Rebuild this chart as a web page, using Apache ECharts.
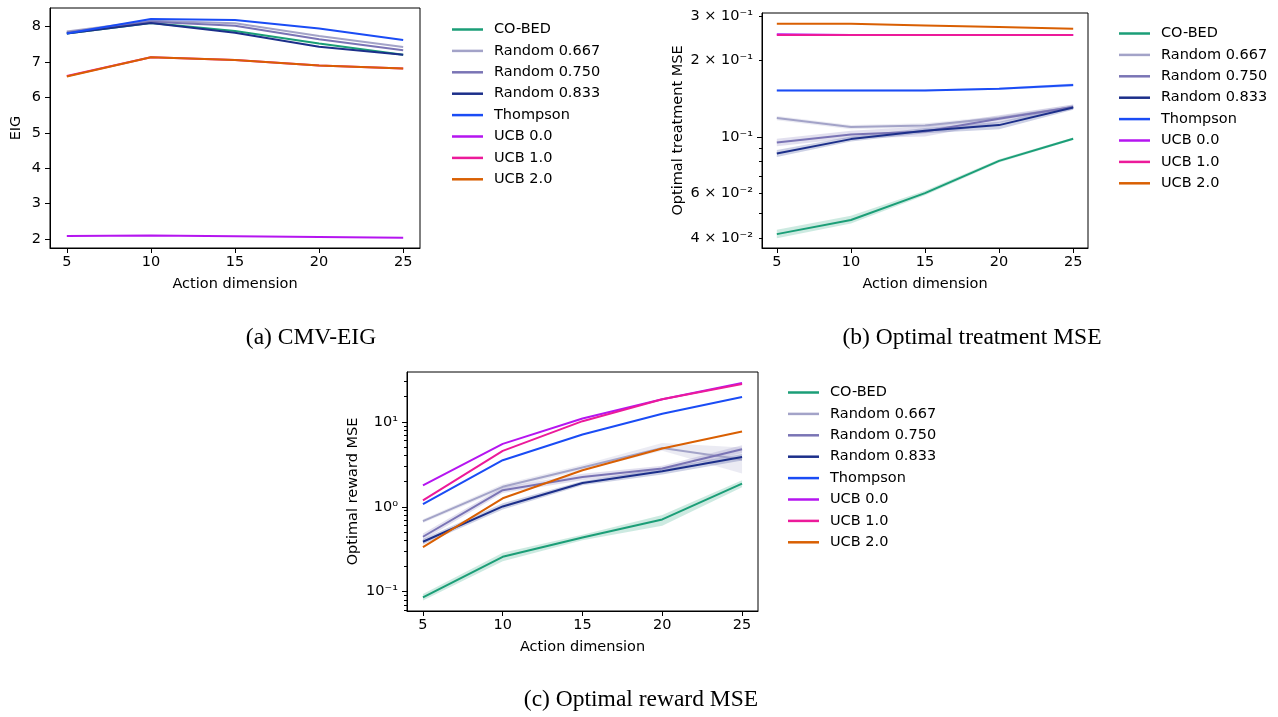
<!DOCTYPE html>
<html><head><meta charset="utf-8">
<script src="https://cdn.jsdelivr.net/npm/echarts@6/dist/echarts.min.js"></script>
<style>html,body{margin:0;padding:0;background:#fff}#c{width:1278px;height:717px}</style>
</head><body><div id="c"></div><script>
// ---------- data ----------
const actionDims = [5, 10, 15, 20, 25];
const methodNames = ['CO-BED', 'Random 0.667', 'Random 0.750', 'Random 0.833', 'Thompson', 'UCB 0.0', 'UCB 1.0', 'UCB 2.0'];
const methodColors = ['#1b9e77', '#a3a3c8', '#7a74b5', '#1c2f8a', '#1a4cf5', '#b515f0', '#ec1a9a', '#d95f02'];

// (a) CMV-EIG
const eigCOBED      = [7.80, 8.10, 7.87, 7.52, 7.20];
const eigRandom0667 = [7.86, 8.16, 8.09, 7.73, 7.42];
const eigRandom0750 = [7.83, 8.13, 8.02, 7.64, 7.33];
const eigRandom0833 = [7.80, 8.10, 7.82, 7.43, 7.20];
const eigThompson   = [7.80, 8.21, 8.18, 7.94, 7.62];
const eigUCB00      = [2.09, 2.10, 2.08, 2.06, 2.04];
const eigUCB10      = [6.60, 7.13, 7.05, 6.90, 6.81];
const eigUCB20      = [6.59, 7.13, 7.05, 6.90, 6.81];

// (b) Optimal treatment MSE
const treatCOBED      = [0.0415, 0.0472, 0.0602, 0.0806, 0.0985];
const treatRandom0667 = [0.1188, 0.1095, 0.1112, 0.1188, 0.1315];
const treatRandom0750 = [0.0952, 0.1025, 0.1052, 0.1180, 0.1315];
const treatRandom0833 = [0.0862, 0.0982, 0.1059, 0.1115, 0.1308];
const treatThompson   = [0.1527, 0.1525, 0.1527, 0.1550, 0.1603];
const treatUCB00      = [0.2540, 0.2525, 0.2525, 0.2525, 0.2523];
const treatUCB10      = [0.2523, 0.2523, 0.2523, 0.2523, 0.2523];
const treatUCB20      = [0.2796, 0.2796, 0.2753, 0.2713, 0.2670];
// (b) uncertainty bands
const treatCOBEDLow       = [0.0400, 0.0457, 0.0590, 0.0795, 0.0975];
const treatCOBEDHigh      = [0.0432, 0.0490, 0.0615, 0.0818, 0.0997];
const treatRandom0667Low  = [0.1165, 0.1075, 0.1090, 0.1165, 0.1290];
const treatRandom0667High = [0.1210, 0.1115, 0.1135, 0.1210, 0.1345];
const treatRandom0750Low  = [0.0920, 0.0990, 0.1005, 0.1140, 0.1285];
const treatRandom0750High = [0.0985, 0.1060, 0.1100, 0.1220, 0.1345];
const treatRandom0833Low  = [0.0835, 0.0960, 0.1035, 0.1075, 0.1280];
const treatRandom0833High = [0.0890, 0.1005, 0.1085, 0.1150, 0.1335];
const treatThompsonLow    = [0.1515, 0.1513, 0.1515, 0.1537, 0.1580];
const treatThompsonHigh   = [0.1540, 0.1538, 0.1540, 0.1563, 0.1625];

// (c) Optimal reward MSE
const rewardCOBED      = [0.086, 0.258, 0.436, 0.71, 1.88];
const rewardRandom0667 = [0.679, 1.72, 2.91, 4.94, 3.61];
const rewardRandom0750 = [0.444, 1.57, 2.25, 2.83, 4.77];
const rewardRandom0833 = [0.388, 1.01, 1.91, 2.63, 3.87];
const rewardThompson   = [1.076, 3.54, 7.10, 12.5, 19.7];
const rewardUCB00      = [1.786, 5.51, 10.96, 18.5, 28.8];
const rewardUCB10      = [1.19, 4.56, 10.2, 18.5, 28.0];
const rewardUCB20      = [0.336, 1.26, 2.70, 4.86, 7.71];
// (c) uncertainty bands
const rewardCOBEDLow       = [0.079, 0.228, 0.405, 0.60, 1.70];
const rewardCOBEDHigh      = [0.094, 0.288, 0.470, 0.80, 2.05];
const rewardRandom0667Low  = [0.645, 1.60, 2.70, 4.56, 2.47];
const rewardRandom0667High = [0.715, 1.85, 3.12, 5.66, 5.00];
const rewardRandom0750Low  = [0.405, 1.45, 2.05, 2.60, 4.30];
const rewardRandom0750High = [0.485, 1.70, 2.45, 3.05, 5.30];
const rewardRandom0833Low  = [0.360, 0.93, 1.80, 2.40, 3.50];
const rewardRandom0833High = [0.418, 1.10, 2.02, 2.85, 4.20];

// tick labels
const xTickValues = [5, 10, 15, 20, 25];
const eigTickValues = [2, 3, 4, 5, 6, 7, 8];
const treatTickValues = [0.04, 0.06, 0.1, 0.2, 0.3];
const treatTickLabels = ['4 × 10⁻²', '6 × 10⁻²', '10⁻¹', '2 × 10⁻¹', '3 × 10⁻¹'];
const treatMajorTicks = [0.1];
const treatMinorTicks = [0.04, 0.05, 0.06, 0.07, 0.08, 0.09, 0.2, 0.3];
const rewardTickValues = [0.1, 1, 10];
const rewardTickLabels = ['10⁻¹', '10⁰', '10¹'];
const rewardMinorTicks = [0.06, 0.07, 0.08, 0.09, 0.2, 0.3, 0.4, 0.5, 0.6, 0.7, 0.8, 0.9,
                          2, 3, 4, 5, 6, 7, 8, 9, 20, 30];

const panelTitles = ['(a) CMV-EIG', '(b) Optimal treatment MSE', '(c) Optimal reward MSE'];

// ---------- chart ----------
const FONT = 'DejaVu Sans';
const FS = 14.5;
const chart = echarts.init(document.getElementById('c'), null, {renderer: 'canvas'});

function pairs(vals) { return actionDims.map((x, i) => [x, vals[i]]); }

function lookupLabel(values, labels) {
  return function (v) {
    let best = 0, bd = Infinity;
    values.forEach((t, i) => { const d = Math.abs(Math.log(v) - Math.log(t)); if (d < bd) { bd = d; best = i; } });
    return labels[best];
  };
}

const eigSets = [eigCOBED, eigRandom0667, eigRandom0750, eigRandom0833, eigThompson, eigUCB00, eigUCB10, eigUCB20];
const treatSets = [treatCOBED, treatRandom0667, treatRandom0750, treatRandom0833, treatThompson, treatUCB00, treatUCB10, treatUCB20];
const rewardSets = [rewardCOBED, rewardRandom0667, rewardRandom0750, rewardRandom0833, rewardThompson, rewardUCB00, rewardUCB10, rewardUCB20];

const series = [];
function addBand(idx, lower, upper, axisIdx) {
  const color = methodColors[idx];
  series.push({
    type: 'custom', xAxisIndex: axisIdx, yAxisIndex: axisIdx, silent: true, z: 1, animation: false,
    data: actionDims.map((x, i) => [x, lower[i], upper[i]]),
    encode: {x: 0, y: [1, 2]},
    renderItem: function (params, api) {
      if (params.dataIndex !== 0) return null;
      const top = actionDims.map((x, i) => api.coord([x, upper[i]]));
      const bot = actionDims.map((x, i) => api.coord([x, lower[i]])).reverse();
      return {
        type: 'polygon',
        shape: {points: top.concat(bot)},
        style: {fill: color, opacity: 0.22}
      };
    }
  });
}
function addLines(sets, axisIdx) {
  sets.forEach((vals, i) => {
    series.push({
      type: 'line', name: methodNames[i], xAxisIndex: axisIdx, yAxisIndex: axisIdx,
      data: pairs(vals), symbol: 'none', showSymbol: false,
      lineStyle: {width: 2, color: methodColors[i]}, itemStyle: {color: methodColors[i]},
      z: 3, animation: false
    });
  });
}
// bands
addBand(0, treatCOBEDLow, treatCOBEDHigh, 1);
addBand(1, treatRandom0667Low, treatRandom0667High, 1);
addBand(2, treatRandom0750Low, treatRandom0750High, 1);
addBand(3, treatRandom0833Low, treatRandom0833High, 1);
addBand(4, treatThompsonLow, treatThompsonHigh, 1);
addBand(0, rewardCOBEDLow, rewardCOBEDHigh, 2);
addBand(1, rewardRandom0667Low, rewardRandom0667High, 2);
addBand(2, rewardRandom0750Low, rewardRandom0750High, 2);
addBand(3, rewardRandom0833Low, rewardRandom0833High, 2);
// lines
addLines(eigSets, 0);
addLines(treatSets, 1);
addLines(rewardSets, 2);

const grids = [
  {left: 50, top: 8, width: 370, height: 240},
  {left: 762, top: 13, width: 326, height: 235},
  {left: 407, top: 372, width: 351, height: 239}
].map(g => Object.assign(g, {show: true, borderColor: '#000', borderWidth: 1, backgroundColor: 'transparent', containLabel: false}));

function xAxisFor(gi) {
  return {
    type: 'value', gridIndex: gi, min: 4, max: 26,
    name: 'Action dimension', nameLocation: 'middle', nameGap: 29,
    nameTextStyle: {fontFamily: FONT, fontSize: FS, color: '#000'},
    axisLine: {show: true, onZero: false, lineStyle: {color: '#000', width: 1}},
    axisTick: {show: true, inside: false, length: 5, customValues: xTickValues, lineStyle: {color: '#000'}},
    axisLabel: {customValues: xTickValues, margin: 7, fontFamily: FONT, fontSize: FS, color: '#000'},
    splitLine: {show: false}
  };
}
const commonY = {
  nameLocation: 'middle',
  nameTextStyle: {fontFamily: FONT, fontSize: FS, color: '#000'},
  axisLine: {show: true, onZero: false, lineStyle: {color: '#000', width: 1}},
  splitLine: {show: false}
};
const yAxes = [
  Object.assign({}, commonY, {
    type: 'value', gridIndex: 0, min: 1.75, max: 8.52, name: 'EIG', nameGap: 26,
    axisTick: {show: true, length: 5, customValues: eigTickValues, lineStyle: {color: '#000'}},
    axisLabel: {customValues: eigTickValues, margin: 9, fontFamily: FONT, fontSize: FS, color: '#000'}
  }),
  Object.assign({}, commonY, {
    type: 'log', logBase: 10, gridIndex: 1, min: 0.0366, max: 0.308, name: 'Optimal treatment MSE', nameGap: 76,
    axisTick: {show: true, length: 5, customValues: treatMajorTicks, lineStyle: {color: '#000'}},
    axisLabel: {customValues: treatTickValues, margin: 9, fontFamily: FONT, fontSize: FS, color: '#000',
                formatter: lookupLabel(treatTickValues, treatTickLabels)}
  }),
  Object.assign({}, commonY, {
    type: 'log', logBase: 10, gridIndex: 2, min: 0.0593, max: 38.7, name: 'Optimal reward MSE', nameGap: 46,
    axisTick: {show: true, length: 5, customValues: rewardTickValues, lineStyle: {color: '#000'}},
    axisLabel: {customValues: rewardTickValues, margin: 9, fontFamily: FONT, fontSize: FS, color: '#000',
                formatter: lookupLabel(rewardTickValues, rewardTickLabels)}
  }),
  // minor tick overlays
  {
    type: 'log', logBase: 10, gridIndex: 1, min: 0.0366, max: 0.308, position: 'left', offset: 0,
    axisLine: {show: false}, splitLine: {show: false}, axisLabel: {show: false},
    axisTick: {show: true, length: 3, customValues: treatMinorTicks, lineStyle: {color: '#000'}}
  },
  {
    type: 'log', logBase: 10, gridIndex: 2, min: 0.0593, max: 38.7, position: 'left', offset: 0,
    axisLine: {show: false}, splitLine: {show: false}, axisLabel: {show: false},
    axisTick: {show: true, length: 3, customValues: rewardMinorTicks, lineStyle: {color: '#000'}}
  }
];

function legendAt(left, top) {
  return {
    orient: 'vertical', left: left, top: top, padding: 0,
    data: methodNames, icon: 'rect', itemWidth: 31, itemHeight: 2.5, itemGap: 6.4,
    selectedMode: false,
    textStyle: {fontFamily: FONT, fontSize: FS, color: '#000', lineHeight: 14, padding: [0, 0, 0, 6]}
  };
}

const captionStyle = {fontFamily: 'Liberation Serif', fontSize: 23.5, fill: '#000', textAlign: 'center', textVerticalAlign: 'middle'};
const captionPos = [[311, 338], [972, 338], [641, 700]];

chart.setOption({
  backgroundColor: '#fff',
  animation: false,
  grid: grids,
  xAxis: [xAxisFor(0), xAxisFor(1), xAxisFor(2)],
  yAxis: yAxes,
  legend: [legendAt(452, 22), legendAt(1119, 26), legendAt(788, 385)],
  series: series,
  graphic: panelTitles.map((t, i) => ({
    type: 'text', x: captionPos[i][0], y: captionPos[i][1],
    style: Object.assign({text: t}, captionStyle)
  }))
});
</script></body></html>
